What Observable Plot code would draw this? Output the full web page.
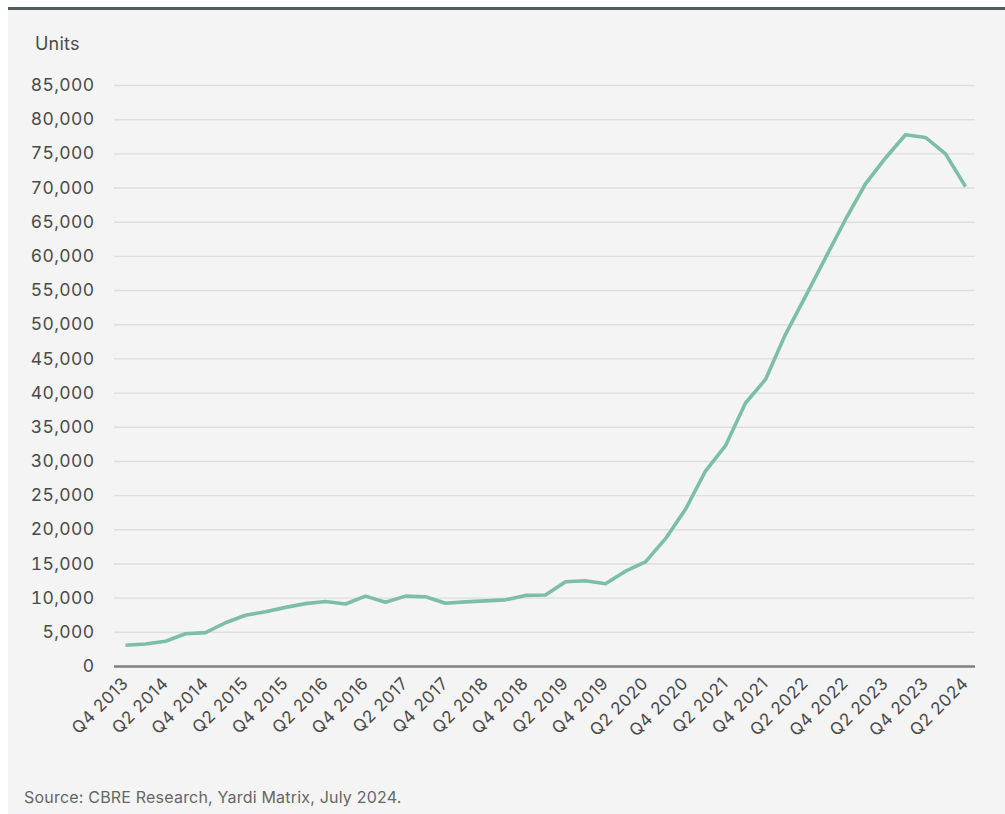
<!DOCTYPE html>
<html>
<head>
<meta charset="utf-8">
<script src="https://cdn.jsdelivr.net/npm/d3@7"></script>
<script src="https://cdn.jsdelivr.net/npm/@observablehq/plot@0.6"></script>
<style>
  html, body { margin: 0; padding: 0; background: #ffffff; width: 1005px; height: 814px; overflow: hidden; }
  #panel { position: absolute; left: 8px; top: 7px; width: 997px; height: 807px; background: #f4f4f4; border-top: 3px solid #4e5e5c; box-sizing: border-box; font-family: Inter, "Open Sans", sans-serif; }
  #units { position: absolute; left: 27px; top: 23px; font-size: 18px; color: #4a4a4a; letter-spacing: 0.2px; }
  #chart { position: absolute; left: 0; top: 0; }
  #source { position: absolute; left: 16px; top: 777px; font-size: 16px; color: #666; letter-spacing: 0.2px; }
  #chart svg g[aria-label="x-axis tick label"] text { letter-spacing: 0.6px; }
  #chart svg g[aria-label="y-axis tick label"] text { letter-spacing: 0.4px; }
</style>
</head>
<body>
<div id="panel">
  <div id="chart"></div>
  <div id="units">Units</div>
  <div id="source">Source: CBRE Research, Yardi Matrix, July 2024.</div>
</div>
<script>
const quarters = [
  "Q4 2013",
  "Q1 2014","Q2 2014","Q3 2014","Q4 2014",
  "Q1 2015","Q2 2015","Q3 2015","Q4 2015",
  "Q1 2016","Q2 2016","Q3 2016","Q4 2016",
  "Q1 2017","Q2 2017","Q3 2017","Q4 2017",
  "Q1 2018","Q2 2018","Q3 2018","Q4 2018",
  "Q1 2019","Q2 2019","Q3 2019","Q4 2019",
  "Q1 2020","Q2 2020","Q3 2020","Q4 2020",
  "Q1 2021","Q2 2021","Q3 2021","Q4 2021",
  "Q1 2022","Q2 2022","Q3 2022","Q4 2022",
  "Q1 2023","Q2 2023","Q3 2023","Q4 2023",
  "Q1 2024","Q2 2024"
];
const units = [
  3100,
  3300, 3700, 4800, 4950,
  6400, 7500, 8000, 8650,
  9200, 9500, 9150, 10300,
  9400, 10300, 10200, 9250,
  9450, 9600, 9750, 10400,
  10450, 12400, 12550, 12100,
  13950, 15300, 18700, 23000,
  28600, 32300, 38550, 42000,
  48600, 54150, 59800, 65400,
  70600, 74400, 77800, 77400,
  75000, 70200
];
const xTickLabels = quarters.filter((q, i) => i % 2 === 0);
const yTicks = d3.range(0, 85001, 5000);

const data = quarters.map((q, i) => ({quarter: q, value: units[i]}));

const chart = Plot.plot({
  width: 997,
  height: 750,
  marginLeft: 106,
  marginRight: 30,
  marginTop: 75,
  marginBottom: 94,
  style: {background: "transparent", fontFamily: "Inter, 'Open Sans', sans-serif", fontSize: "17px", color: "#4a4a4a"},
  x: {type: "point", domain: quarters, padding: 0.5, label: null},
  y: {domain: [0, 85000], label: null},
  marks: [
    Plot.ruleY(yTicks.filter(d => d > 0), {stroke: "#dcdedf", strokeWidth: 1.4}),
    Plot.ruleY([0], {stroke: "#7b8384", strokeWidth: 2.5}),
    Plot.axisY({ticks: yTicks, tickSize: 0, tickPadding: 20, tickFormat: d3.format(","), label: null, fontSize: 17.5}),
    Plot.axisX({ticks: xTickLabels, tickSize: 0, tickPadding: 14, tickRotate: -45, label: null, fontSize: 17}),
    Plot.line(data, {x: "quarter", y: "value", stroke: "#7dbea6", strokeWidth: 3.6, strokeLinejoin: "round", strokeLinecap: "butt"})
  ]
});
document.getElementById("chart").appendChild(chart);
</script>
</body>
</html>
